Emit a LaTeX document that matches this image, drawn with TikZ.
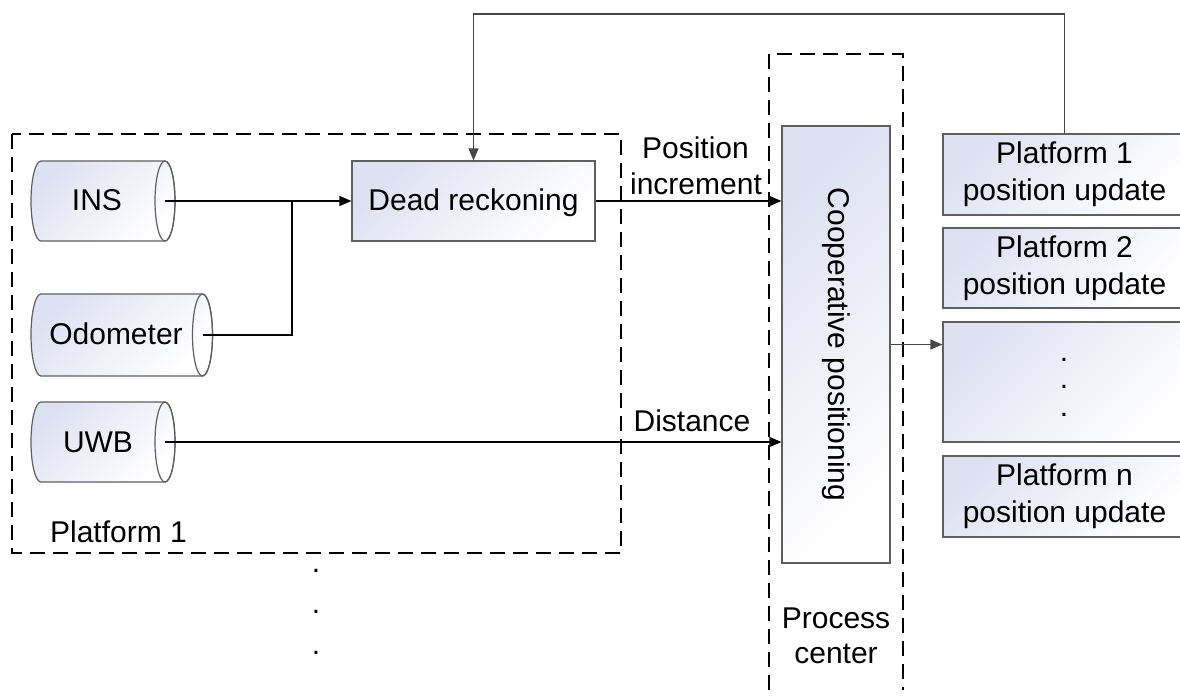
\documentclass[tikz,border=0pt]{standalone}
\usepackage{fontspec}
\setmainfont{Liberation Sans}
\usetikzlibrary{arrows.meta}
\definecolor{lav}{RGB}{222,225,242}
\definecolor{bord}{RGB}{95,95,95}
\begin{document}
\begin{tikzpicture}[x=1pt,y=-1pt,
  font=\fontsize{30}{37}\selectfont,
  shadebox/.style={draw=bord, line width=1.2pt, top color=lav, bottom color=white, shading angle=45},
  box/.style={shadebox, rectangle, inner sep=0pt, align=center},
  lbl/.style={inner sep=0pt, anchor=base},
  dots/.style={inner sep=0pt, align=center},
  conn/.style={line width=1.4pt, draw=black},
  arr/.style={conn, -{Triangle[length=12pt,width=10pt]}},
  garr/.style={line width=1.4pt, draw=black!72, fill=black!72, -{Triangle[length=12pt,width=10pt]}},
  grp/.style={draw=black, dash pattern=on 15pt off 8pt, line width=1.2pt}]
\useasboundingbox (0,0) rectangle (1180,696);

% group frames
\draw[grp] (12,134) rectangle (621,553);
\draw[grp] (769,690) -- (769,54) -- (903,54) -- (903,690);

% cylinders
\path[shadebox] (41,161) -- (165,161) arc[start angle=90,end angle=-90,x radius=10pt,y radius=40pt] -- (41,241) arc[start angle=270,end angle=90,x radius=10pt,y radius=40pt] -- cycle;
\draw[draw=bord,line width=1.2pt] (165,201) ellipse[x radius=10pt,y radius=40pt];
\path[shadebox] (41,294) -- (202.5,294) arc[start angle=90,end angle=-90,x radius=10pt,y radius=41pt] -- (41,376) arc[start angle=270,end angle=90,x radius=10pt,y radius=41pt] -- cycle;
\draw[draw=bord,line width=1.2pt] (202.5,335) ellipse[x radius=10pt,y radius=41pt];
\path[shadebox] (41,402) -- (165,402) arc[start angle=90,end angle=-90,x radius=10pt,y radius=40pt] -- (41,482) arc[start angle=270,end angle=90,x radius=10pt,y radius=40pt] -- cycle;
\draw[draw=bord,line width=1.2pt] (165,442) ellipse[x radius=10pt,y radius=40pt];

\node[lbl] (ins) at (97,210) {INS};
\node[lbl] (odo) at (116,344) {Odometer};
\node[lbl] (uwb) at (98,452) {UWB};
\coordinate (insR) at (165,201);
\coordinate (odoR) at (202.5,335);
\coordinate (uwbR) at (165,442);
\coordinate (junc) at (292,201);
\coordinate (ytop) at (0,14);

% boxes
\node[box, minimum width=243pt, minimum height=80pt] (dr) at (473.5,201) {};
\node[lbl] at (473.5,210) {Dead reckoning};
\node[box, minimum width=108pt, minimum height=437pt] (coop) at (836,344.5) {};
\node[inner sep=0pt, rotate=-90] at (coop.center) {Cooperative positioning};

\node[box, minimum width=243pt, minimum height=81pt] (p1) at (1064.5,174.5) {Platform 1\\position update};
\node[box, minimum width=243pt, minimum height=80pt] (p2) at (1064.5,268) {Platform 2\\position update};
\node[box, minimum width=243pt, minimum height=120pt] (p3) at (1064.5,382) {};
\node[box, minimum width=243pt, minimum height=81pt] (pn) at (1064.5,496.5) {Platform n\\position update};
\node[dots, font=\fontsize{30}{27.5}\selectfont] at (1064,387) {.\\.\\.};

% labels
\node[lbl] at (695.5,158) {Position};
\node[lbl] at (696,194) {increment};
\node[lbl] at (692,431) {Distance};
\node[lbl] at (118.5,542) {Platform 1};
\node[lbl] at (836,628) {Process};
\node[lbl] at (836,663) {center};
\node[dots, font=\fontsize{30}{41}\selectfont] at (316,612) {.\\.\\.};

% connectors
\draw[arr] (insR) -- (dr.west);
\draw[conn] (odoR) -| (junc);
\draw[arr] (dr.east) -- (dr.east -| coop.west);
\draw[arr] (uwbR) -- (uwbR -| coop.west);
\draw[garr] (coop.east) -- (coop.east -| p3.west);
\draw[garr, fill=none] (p1.north) -- (p1.north |- ytop) -- (dr.north |- ytop) -- (dr.north);
\end{tikzpicture}
\end{document}
